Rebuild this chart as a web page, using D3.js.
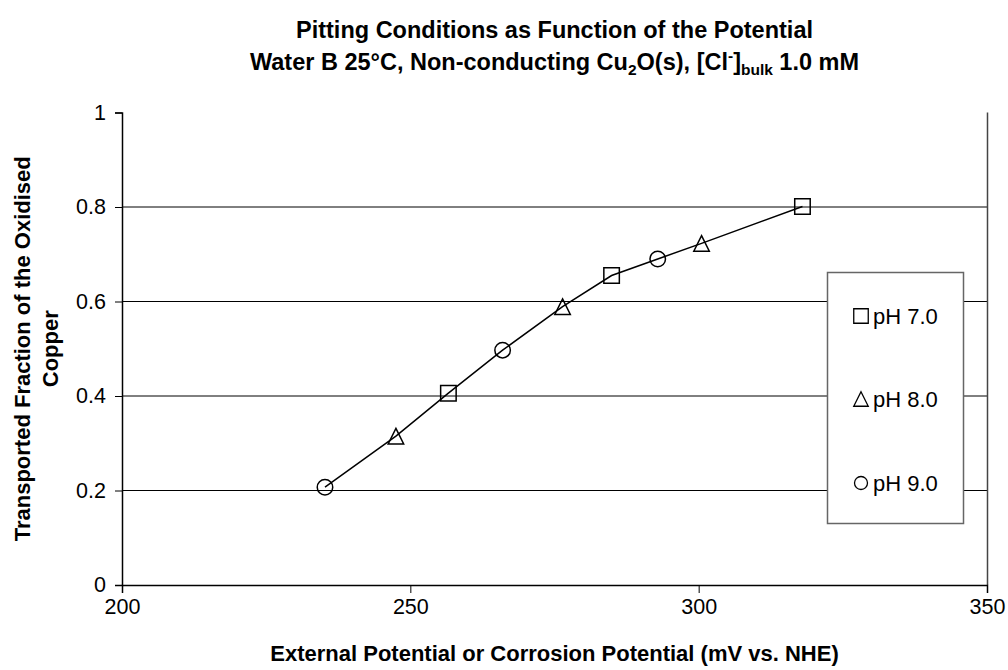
<!DOCTYPE html>
<html><head><meta charset="utf-8">
<script src="https://cdn.jsdelivr.net/npm/d3@7"></script>
<style>body{margin:0;background:#fff}svg{display:block}text{font-family:"Liberation Sans",Arial,sans-serif;fill:#000}</style>
</head><body><svg id="c" width="1008" height="670"></svg>
<script>
// ---- data ----
const xTicks = [200, 250, 300, 350];
const yTicks = [0, 0.2, 0.4, 0.6, 0.8, 1];
const seriesNames = ["pH 7.0", "pH 8.0", "pH 9.0"];
const seriesShapes = ["square", "triangle", "circle"];
const ph7X = [256.6, 284.9, 318.0], ph7Y = [0.406, 0.655, 0.801];
const ph8X = [247.5, 276.4, 300.5], ph8Y = [0.315, 0.589, 0.723];
const ph9X = [235.2, 266.0, 292.9], ph9Y = [0.207, 0.497, 0.690];
const seriesX = [ph7X, ph8X, ph9X], seriesY = [ph7Y, ph8Y, ph9Y];

const svg = d3.select("#c");
const L = 122, R = 987, T = 112.5, B = 585;
const x = d3.scaleLinear().domain([200, 350]).range([L, R]);
const y = d3.scaleLinear().domain([0, 1]).range([B, T]);

// gridlines
svg.append("g").selectAll("line").data(yTicks.filter(d => d > 0 && d < 1)).join("line")
  .attr("x1", L).attr("x2", R).attr("y1", d => y(d)).attr("y2", d => y(d))
  .attr("stroke", "#000").attr("stroke-width", 1);
// right border
svg.append("line").attr("x1", R + 0.5).attr("x2", R + 0.5).attr("y1", T).attr("y2", B).attr("stroke", "#444").attr("stroke-width", 1.5);

// axes
const xAxis = svg.append("g").attr("transform", `translate(0,${B})`)
  .call(d3.axisBottom(x).tickValues(xTicks).tickSize(8).tickPadding(6).tickFormat(d3.format("d")));
const yAxis = svg.append("g").attr("transform", `translate(${L},0)`)
  .call(d3.axisLeft(y).tickValues(yTicks).tickSize(7).tickPadding(9).tickFormat(d => d === 0 || d === 1 ? String(d) : d3.format(".1f")(d)));
[xAxis, yAxis].forEach(a => {
  a.select(".domain").attr("stroke", "#000").attr("stroke-width", 1.5);
  a.selectAll(".tick line").attr("stroke", "#000").attr("stroke-width", 1);
  a.selectAll(".tick text").attr("font-size", 21.5).attr("font-family", '"Liberation Sans",Arial,sans-serif').attr("fill", "#000");
});
xAxis.selectAll(".tick text").attr("dy", "0.71em");

// line through all points sorted by x
const all = [];
seriesX.forEach((xs, i) => xs.forEach((v, j) => all.push([v, seriesY[i][j]])));
all.sort((a, b) => a[0] - b[0]);
svg.append("path").datum(all)
  .attr("d", d3.line().x(d => x(d[0])).y(d => y(d[1])))
  .attr("fill", "none").attr("stroke", "#000").attr("stroke-width", 1.5);

function shapePath(shape, s) {
  const h = s / 2;
  if (shape === "square") return `M${-h},${-h}H${h}V${h}H${-h}Z`;
  if (shape === "triangle") return `M0,${-h}L${h},${h}L${-h},${h}Z`;
  const r = h; return `M${r},0A${r},${r} 0 1,1 ${-r},0A${r},${r} 0 1,1 ${r},0Z`;
}
// markers
seriesX.forEach((xs, i) => {
  svg.append("g").selectAll("path").data(xs.map((v, j) => [v, seriesY[i][j]])).join("path")
    .attr("transform", d => `translate(${x(d[0])},${y(d[1])})`)
    .attr("d", shapePath(seriesShapes[i], 15.5))
    .attr("fill", "none").attr("stroke", "#000").attr("stroke-width", 1.5);
});

// legend
const lg = svg.append("g");
lg.append("rect").attr("x", 827.5).attr("y", 272.5).attr("width", 136).attr("height", 251)
  .attr("fill", "#fff").attr("stroke", "#666").attr("stroke-width", 1.5);
const legY = [316, 399, 483];
seriesNames.forEach((n, i) => {
  lg.append("path").attr("transform", `translate(861,${legY[i]})`).attr("d", shapePath(seriesShapes[i], i === 2 ? 13 : 14.5))
    .attr("fill", "none").attr("stroke", "#000").attr("stroke-width", 1.3);
  lg.append("text").attr("x", 873).attr("y", legY[i]).attr("dy", "0.36em").attr("font-size", 22).text(n);
});

// axis titles
svg.append("text").attr("x", (L + R) / 2).attr("y", 661).attr("text-anchor", "middle")
  .attr("font-size", 22).attr("font-weight", "bold").text("External Potential or Corrosion Potential (mV vs. NHE)");
const yt = svg.append("g").attr("transform", `translate(30,${(T + B) / 2}) rotate(-90)`);
yt.append("text").attr("text-anchor", "middle").attr("font-size", 22).attr("font-weight", "bold").text("Transported Fraction of the Oxidised");
yt.append("text").attr("text-anchor", "middle").attr("y", 28).attr("font-size", 22).attr("font-weight", "bold").text("Copper");

// chart title
const t1 = svg.append("text").attr("x", (L + R) / 2).attr("y", 38).attr("text-anchor", "middle")
  .attr("font-size", 23.5).attr("font-weight", "bold").text("Pitting Conditions as Function of the Potential");
const t2 = svg.append("text").attr("x", (L + R) / 2).attr("y", 70).attr("text-anchor", "middle")
  .attr("font-size", 23.5).attr("font-weight", "bold");
t2.append("tspan").text("Water B 25°C, Non-conducting Cu");
t2.append("tspan").attr("font-size", 15.5).attr("dy", 5).text("2");
t2.append("tspan").attr("dy", -5).text("O(s), [Cl");
t2.append("tspan").attr("font-size", 15.5).attr("dy", -9).text("-");
t2.append("tspan").attr("dy", 9).text("]");
t2.append("tspan").attr("font-size", 15.5).attr("dy", 5).text("bulk");
t2.append("tspan").attr("dy", -5).text(" 1.0 mM");
</script></body></html>
